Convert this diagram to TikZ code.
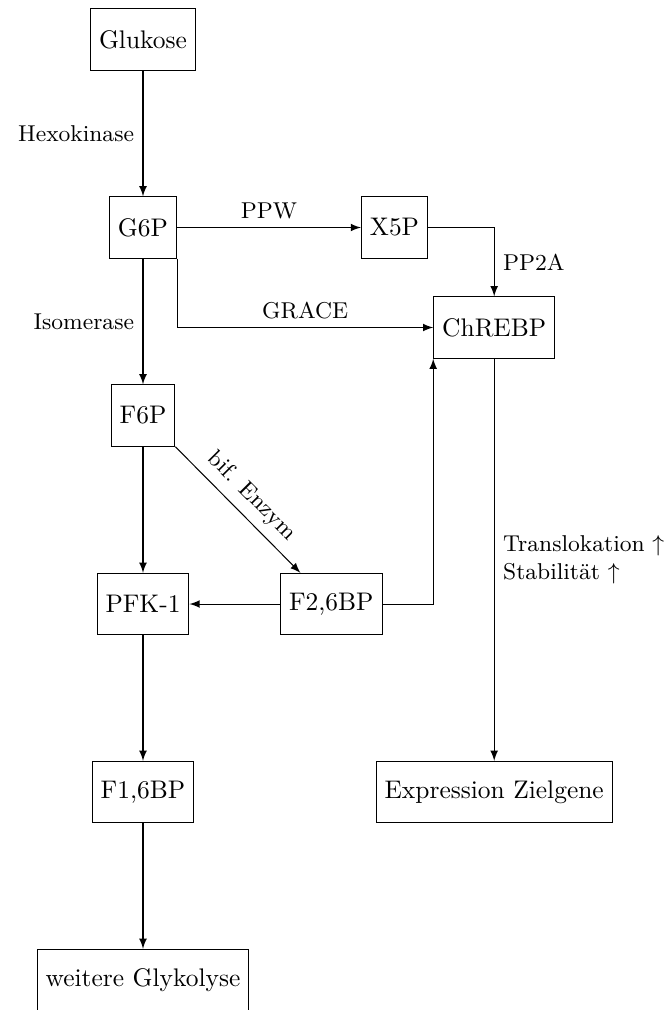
\documentclass[tikz,border=0pt]{standalone}
\usepackage{fontspec}
\usetikzlibrary{arrows}
\begin{document}
\begin{tikzpicture}[x=0.3929pt, y=-0.3929pt, >=latex,
  box/.style={draw, minimum height=24.1pt},
  lbl/.style={font=\small}]
\useasboundingbox (0,0) rectangle (670,1010);

% metabolites and enzymes
\node[box] (glu)   at (143, 39.5)  {Glukose};
\node[box] (g6p)   at (143, 227.5) {G6P};
\node[box] (x5p)   at (394.5, 227.5) {X5P};
\node[box] (chrebp) at (494.2, 327.5) {ChREBP};
\node[box] (f6p)   at (143, 415.5) {F6P};
\node[box] (pfk)   at (143, 604)   {PFK-1};
\node[box] (f26bp) at (331.3, 604) {F2,6BP};
\node[box] (f16bp) at (143, 792)   {F1,6BP};
\node[box] (expr)  at (494.2, 792) {Expression Zielgene};
\node[box] (weit)  at (143, 980)   {weitere Glykolyse};

% glycolysis
\draw[->] (glu) -- node[left, lbl] {Hexokinase} (g6p);
\draw[->] (g6p) -- node[left, lbl] {Isomerase} (f6p);
\draw[->] (f6p) -- (pfk);
\draw[->] (pfk) -- (f16bp);
\draw[->] (f16bp) -- (weit);

% side branches
\draw[->] (g6p) -- node[above, lbl] {PPW} (x5p);
\draw[->] (x5p) -| node[pos=0.75, right, lbl] {PP2A} (chrebp);
\draw[->] (g6p.south east) |- node[pos=0.75, above, lbl] {GRACE} (chrebp);
\draw[->] (f6p.south east) -- node[sloped, above, lbl] {bif. Enzym} (f26bp);
\draw[->] (f26bp) -- (pfk);
\draw[->] (f26bp) -| (chrebp.south west);
\draw[->] (chrebp) -- node[right, lbl, align=left]
  {Translokation $\uparrow$\\Stabilität $\uparrow$} (expr);
\end{tikzpicture}
\end{document}
